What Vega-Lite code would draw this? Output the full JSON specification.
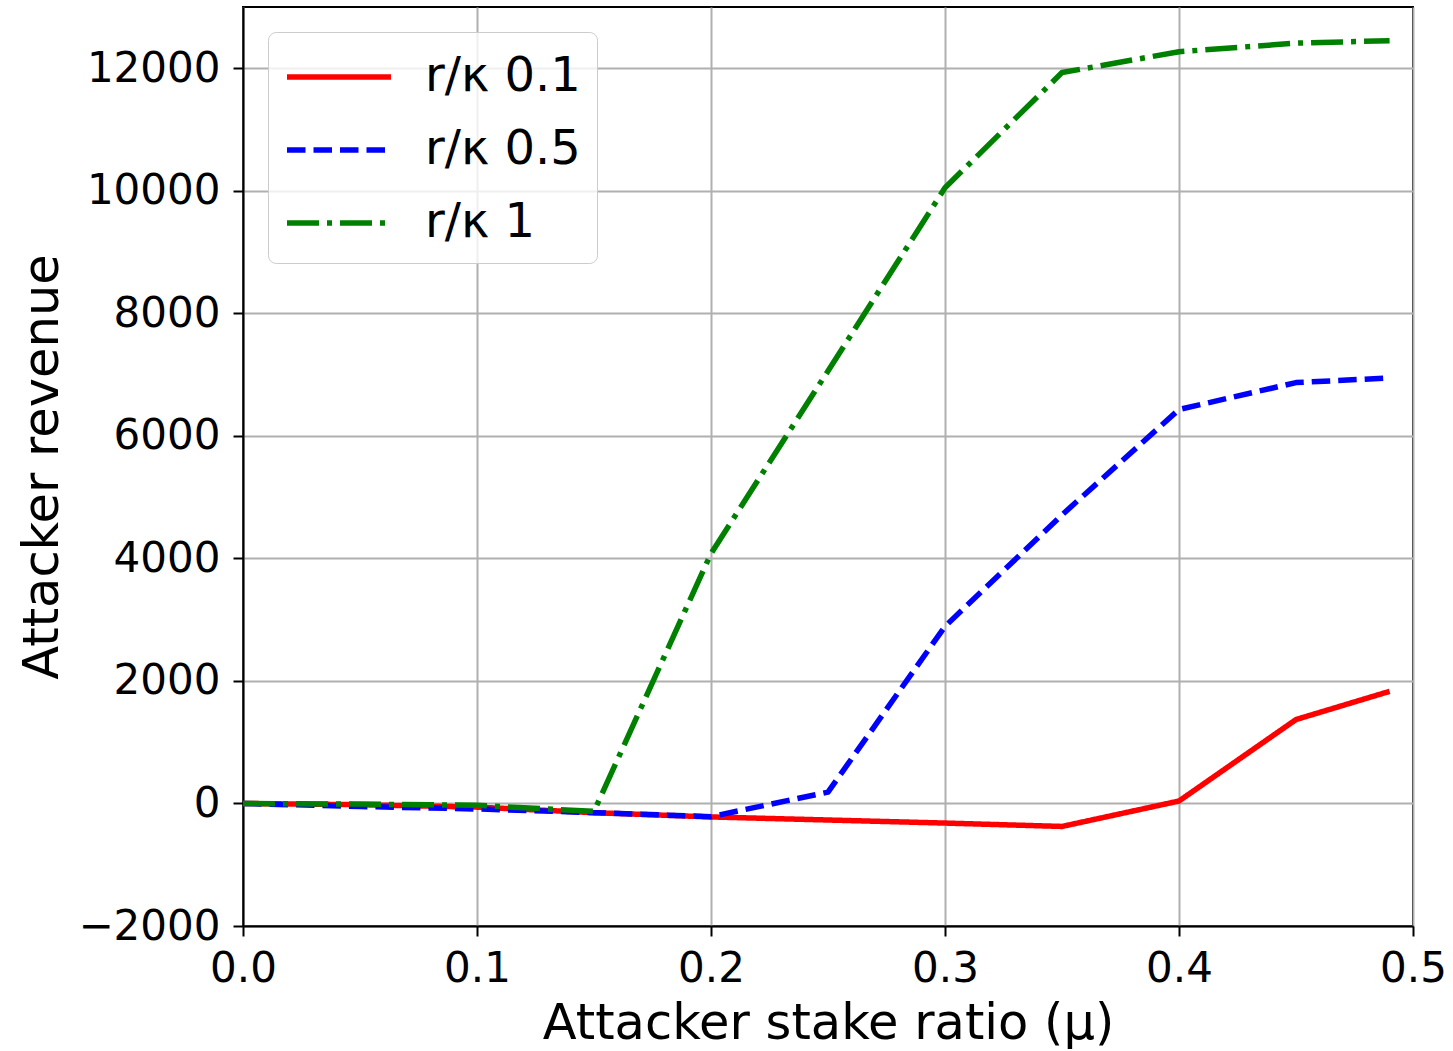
{
  "$schema": "https://vega.github.io/schema/vega-lite/v6.json",
  "autosize": "none",
  "width": 1170,
  "height": 919,
  "padding": {"left": 243, "top": 7, "right": 40, "bottom": 125},
  "background": "white",
  "config": {
    "font": "DejaVu Sans",
    "view": {"stroke": "black", "strokeWidth": 2},
    "axis": {
      "labelFont": "DejaVu Sans",
      "titleFont": "DejaVu Sans",
      "labelFontSize": 42,
      "titleFontSize": 49.5,
      "titleFontWeight": "normal",
      "labelColor": "black",
      "titleColor": "black",
      "domainColor": "black",
      "domainWidth": 2,
      "tickColor": "black",
      "tickWidth": 2,
      "tickSize": 10,
      "labelFlush": false,
      "gridColor": "#b0b0b0",
      "gridWidth": 2,
      "gridOpacity": 1
    }
  },
  "data": {
    "values": [
      {"mu": 0, "series": "r/κ 0.1", "rev": 0},
      {"mu": 0.05, "series": "r/κ 0.1", "rev": -20},
      {"mu": 0.1, "series": "r/κ 0.1", "rev": -60},
      {"mu": 0.15, "series": "r/κ 0.1", "rev": -150},
      {"mu": 0.2, "series": "r/κ 0.1", "rev": -220},
      {"mu": 0.25, "series": "r/κ 0.1", "rev": -270},
      {"mu": 0.3, "series": "r/κ 0.1", "rev": -320},
      {"mu": 0.35, "series": "r/κ 0.1", "rev": -375},
      {"mu": 0.4, "series": "r/κ 0.1", "rev": 40},
      {"mu": 0.45, "series": "r/κ 0.1", "rev": 1370},
      {"mu": 0.49, "series": "r/κ 0.1", "rev": 1830},
      {"mu": 0, "series": "r/κ 0.5", "rev": 0},
      {"mu": 0.05, "series": "r/κ 0.5", "rev": -50},
      {"mu": 0.1, "series": "r/κ 0.5", "rev": -90},
      {"mu": 0.15, "series": "r/κ 0.5", "rev": -150},
      {"mu": 0.2, "series": "r/κ 0.5", "rev": -215},
      {"mu": 0.25, "series": "r/κ 0.5", "rev": 185},
      {"mu": 0.3, "series": "r/κ 0.5", "rev": 2890},
      {"mu": 0.35, "series": "r/κ 0.5", "rev": 4710},
      {"mu": 0.4, "series": "r/κ 0.5", "rev": 6430},
      {"mu": 0.45, "series": "r/κ 0.5", "rev": 6870},
      {"mu": 0.49, "series": "r/κ 0.5", "rev": 6945},
      {"mu": 0, "series": "r/κ 1", "rev": 0},
      {"mu": 0.05, "series": "r/κ 1", "rev": -10},
      {"mu": 0.1, "series": "r/κ 1", "rev": -30},
      {"mu": 0.15, "series": "r/κ 1", "rev": -130},
      {"mu": 0.2, "series": "r/κ 1", "rev": 4080},
      {"mu": 0.25, "series": "r/κ 1", "rev": 7060},
      {"mu": 0.3, "series": "r/κ 1", "rev": 10050},
      {"mu": 0.35, "series": "r/κ 1", "rev": 11930},
      {"mu": 0.4, "series": "r/κ 1", "rev": 12270},
      {"mu": 0.45, "series": "r/κ 1", "rev": 12410},
      {"mu": 0.49, "series": "r/κ 1", "rev": 12450}
    ]
  },
  "mark": {"type": "line", "strokeWidth": 5.5, "strokeCap": "butt", "strokeJoin": "round"},
  "encoding": {
    "x": {
      "field": "mu",
      "type": "quantitative",
      "scale": {"domain": [0, 0.5], "nice": false, "zero": false},
      "axis": {
        "title": "Attacker stake ratio (μ)",
        "values": [0, 0.1, 0.2, 0.3, 0.4, 0.5],
        "format": ".1f",
        "labelPadding": 12,
        "titlePadding": 10
      }
    },
    "y": {
      "field": "rev",
      "type": "quantitative",
      "scale": {"domain": [-2000, 13000], "nice": false, "zero": false},
      "axis": {
        "title": "Attacker revenue",
        "values": [-2000, 0, 2000, 4000, 6000, 8000, 10000, 12000],
        "format": "d",
        "labelPadding": 13,
        "titlePadding": 10
      }
    },
    "color": {
      "field": "series",
      "type": "nominal",
      "sort": ["r/κ 0.1", "r/κ 0.5", "r/κ 1"],
      "scale": {"domain": ["r/κ 0.1", "r/κ 0.5", "r/κ 1"], "range": ["#ff0000", "#0000ff", "#008000"]},
      "legend": {
        "title": null,
        "orient": "top-left",
        "offset": 25,
        "symbolType": "M-1,0H3",
        "symbolSize": 2704,
        "symbolStrokeWidth": 5.5,
        "labelFontSize": 48,
        "labelFont": "DejaVu Sans",
        "labelColor": "black",
        "labelOffset": 83,
        "rowPadding": 20,
        "padding": 16,
        "fillColor": "rgba(255,255,255,0.8)",
        "strokeColor": "#cccccc",
        "cornerRadius": 8
      }
    },
    "strokeDash": {
      "field": "series",
      "type": "nominal",
      "sort": ["r/κ 0.1", "r/κ 0.5", "r/κ 1"],
      "scale": {"domain": ["r/κ 0.1", "r/κ 0.5", "r/κ 1"], "range": [[1, 0], [18.5, 8], [32, 8, 5, 8]]},
      "legend": null
    }
  }
}
